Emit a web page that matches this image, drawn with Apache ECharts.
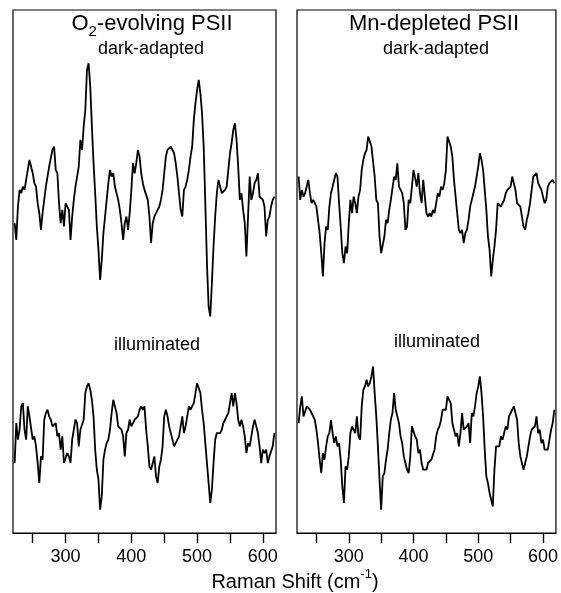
<!DOCTYPE html>
<html>
<head>
<meta charset="utf-8">
<script src="https://cdn.jsdelivr.net/npm/echarts@6.0.0/dist/echarts.min.js"></script>
<style>
  html, body { margin: 0; padding: 0; background: #fff; }
  #chart { width: 561px; height: 593px; }
</style>
</head>
<body>
<div id="chart"></div>
<script>
// Raman shift grid (cm-1), uniform 2.5 cm-1 sampling from 222.5 to 617.5
const ramanShift = Array.from({ length: 159 }, (_, i) => 222.5 + 2.5 * i);

const tickValues = [250, 300, 350, 400, 450, 500, 550, 600];
const labelValues = [300, 400, 500, 600];

// O2-evolving PSII (arbitrary intensity, traces offset)
const o2Dark = [
  93, 88, 98, 103, 102, 104, 103, 106, 109, 112,
  110, 108, 105, 104, 99, 96, 91, 96, 100, 104,
  107, 110, 110, 115, 116, 109, 108, 99, 93, 97,
  92, 99, 98, 97, 88, 95, 100, 104, 107, 110,
  118, 115, 122, 127, 139, 141, 134, 122, 111, 102,
  92, 85, 76, 82, 90, 95, 100, 105, 109, 107,
  108, 104, 102, 100, 97, 93, 88, 93, 95, 91,
  96, 103, 111, 108, 111, 115, 113, 108, 105, 103,
  103, 100, 95, 87, 93, 95, 96, 97, 98, 100,
  103, 108, 113, 115, 115, 116, 115, 114, 111, 107,
  102, 97, 95, 103, 104, 106, 109, 113, 116, 124,
  129, 133, 136, 132, 126, 116, 99, 81, 68, 65,
  75, 86, 95, 102, 106, 106, 102, 102, 103, 104,
  109, 114, 117, 121, 123, 118, 110, 100, 102, 97,
  93, 83, 95, 107, 100, 102, 105, 106, 108, 101,
  101, 100, 98, 89, 94, 95, 98, 100, 101
];
const o2Light = [
  21, 33, 28, 31, 38, 39, 31, 28, 38, 35,
  35, 28, 29, 26, 21, 15, 23, 22, 34, 36,
  37, 35, 34, 32, 32, 33, 29, 30, 25, 29,
  21, 21, 24, 23, 21, 28, 31, 34, 33, 26,
  31, 31, 34, 42, 44, 45, 43, 40, 35, 25,
  19, 16, 7, 11, 22, 25, 27, 28, 31, 36,
  40, 40, 36, 32, 32, 31, 29, 23, 30, 31,
  34, 32, 33, 34, 34, 35, 37, 38, 37, 38,
  31, 26, 20, 19, 19, 23, 17, 15, 20, 22,
  26, 35, 37, 35, 32, 32, 28, 26, 27, 28,
  29, 32, 35, 30, 32, 35, 38, 37, 38, 39,
  42, 45, 45, 42, 37, 33, 27, 21, 15, 9,
  13, 21, 28, 30, 30, 30, 31, 33, 34, 35,
  36, 39, 42, 38, 42, 39, 34, 32, 34, 32,
  29, 24, 27, 26, 29, 32, 34, 32, 30, 26,
  21, 25, 24, 25, 21, 23, 23, 26, 30
];

// Mn-depleted PSII
const mnDark = [
  107, 100, 103, 101, 102, 104, 106, 102, 99, 100,
  99, 98, 98, 90, 84, 77, 87, 92, 91, 98,
  102, 102, 106, 108, 107, 99, 92, 84, 81, 86,
  84, 93, 100, 96, 101, 99, 96, 101, 103, 109,
  112, 114, 115, 119, 119, 116, 116, 107, 100, 99,
  89, 84, 84, 89, 94, 93, 97, 100, 100, 107,
  106, 111, 104, 104, 102, 99, 91, 92, 100, 99,
  104, 109, 109, 104, 108, 102, 99, 106, 101, 96,
  95, 96, 95, 97, 96, 99, 102, 101, 104, 103,
  105, 109, 119, 119, 116, 113, 106, 101, 96, 91,
  90, 91, 87, 90, 91, 94, 98, 100, 100, 104,
  107, 110, 114, 112, 109, 103, 97, 89, 85, 77,
  82, 86, 91, 99, 99, 98, 99, 100, 102, 103,
  103, 104, 107, 107, 103, 99, 99, 98, 95, 92,
  91, 94, 96, 99, 103, 107, 107, 108, 105, 105,
  103, 101, 99, 100, 104, 105, 105, 106, 105
];
const mnLight = [
  33, 38, 41, 35, 35, 38, 38, 37, 36, 35,
  34, 31, 27, 22, 18, 24, 22, 26, 29, 30,
  34, 30, 27, 29, 26, 27, 22, 14, 9, 20,
  19, 23, 30, 32, 31, 30, 35, 29, 28, 38,
  43, 44, 46, 44, 45, 47, 50, 42, 35, 26,
  16, 7, 17, 18, 22, 25, 30, 34, 36, 42,
  37, 35, 33, 29, 27, 23, 21, 19, 18, 23,
  32, 32, 29, 28, 24, 25, 21, 19, 19, 19,
  21, 21, 22, 22, 25, 29, 31, 32, 34, 37,
  37, 37, 41, 41, 39, 33, 33, 29, 30, 26,
  30, 36, 31, 31, 32, 33, 27, 36, 35, 38,
  42, 44, 47, 42, 35, 25, 17, 15, 12, 10,
  8, 19, 26, 26, 26, 29, 28, 30, 32, 31,
  35, 35, 37, 38, 36, 34, 27, 23, 23, 19,
  21, 23, 26, 29, 31, 31, 32, 35, 30, 31,
  27, 28, 25, 25, 25, 28, 31, 33, 37
];

const font = 'Liberation Sans, Arial, Helvetica, sans-serif';

function pairs(trace) {
  return trace.map((v, i) => [ramanShift[i], v]);
}

function xAxisFor(gridIndex) {
  return {
    type: 'value',
    gridIndex,
    min: 220,
    max: 620,
    axisLine: { show: true, lineStyle: { color: '#000', width: 1.2 } },
    axisTick: { show: true, customValues: tickValues, length: 10, lineStyle: { color: '#000', width: 1.4 } },
    axisLabel: { customValues: labelValues, color: '#000', fontSize: 18, fontFamily: font, margin: 15 },
    splitLine: { show: false }
  };
}

function yAxisFor(gridIndex) {
  return { type: 'value', gridIndex, min: 0, max: 157, show: false };
}

function trace(data, idx) {
  return {
    type: 'line',
    xAxisIndex: idx,
    yAxisIndex: idx,
    data: pairs(data),
    showSymbol: false,
    silent: true,
    animation: false,
    lineStyle: { color: '#000', width: 1.8 }
  };
}

function label(text, x, y, size) {
  return {
    type: 'text', x, y,
    style: { text, fill: '#000', fontSize: size, fontFamily: font, align: 'center', verticalAlign: 'middle' }
  };
}

const chart = echarts.init(document.getElementById('chart'));
chart.setOption({
  animation: false,
  backgroundColor: '#fff',
  grid: [
    { left: 13, top: 10, width: 263, height: 523, show: true, borderColor: '#000', borderWidth: 1.2 },
    { left: 297, top: 10, width: 261, height: 523, show: true, borderColor: '#000', borderWidth: 1.2 }
  ],
  xAxis: [xAxisFor(0), xAxisFor(1)],
  yAxis: [yAxisFor(0), yAxisFor(1)],
  series: [
    trace(o2Dark, 0),
    trace(o2Light, 0),
    trace(mnDark, 1),
    trace(mnLight, 1)
  ],
  graphic: [
    {
      type: 'text', x: 152, y: 24,
      style: {
        text: '{a|O}{b|2}{a|-evolving PSII}',
        align: 'center', verticalAlign: 'middle',
        rich: {
          a: { fontSize: 22, fontFamily: font, fill: '#000', lineHeight: 30 },
          b: { fontSize: 15, fontFamily: font, fill: '#000', lineHeight: 14, verticalAlign: 'bottom' }
        }
      }
    },
    label('Mn-depleted PSII', 434, 24, 22),
    label('dark-adapted', 151, 49, 18),
    label('dark-adapted', 436, 49, 18),
    label('illuminated', 157, 345, 18),
    label('illuminated', 437, 342, 18),
    {
      type: 'text', x: 295, y: 582,
      style: {
        text: '{a|Raman Shift (cm}{b|-1}{a|)}',
        align: 'center', verticalAlign: 'middle',
        rich: {
          a: { fontSize: 20, fontFamily: font, fill: '#000', lineHeight: 28 },
          b: { fontSize: 13, fontFamily: font, fill: '#000', lineHeight: 12, verticalAlign: 'top' }
        }
      }
    }
  ]
});
</script>
</body>
</html>
